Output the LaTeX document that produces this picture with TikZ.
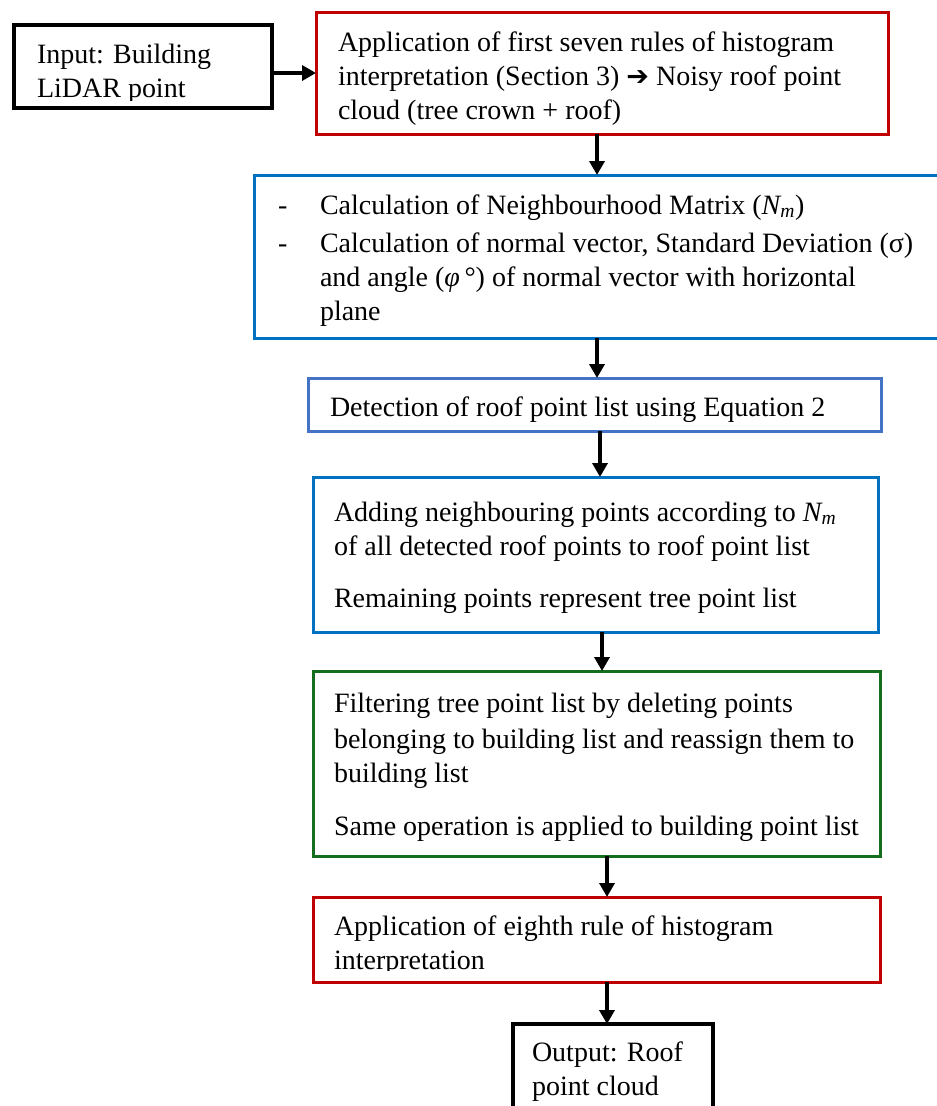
\documentclass[tikz,border=0pt]{standalone}
\usepackage{fontspec}
\setmainfont{Liberation Serif}
\newfontfamily\dejavu{DejaVu Sans}
\usetikzlibrary{arrows.meta}
\definecolor{cred}{RGB}{192,0,0}
\definecolor{cblue}{RGB}{0,112,192}
\definecolor{cblueb}{RGB}{68,114,196}
\definecolor{cgreen}{RGB}{20,110,30}
\begin{document}
\begin{tikzpicture}[x=1pt,y=-1pt,
  boxn/.style={draw, line width=3pt, inner sep=0pt, outer sep=0pt, anchor=north west},
  txt/.style={anchor=north west, inner sep=0pt, outer sep=0pt, align=left, font=\fontsize{28}{34}\selectfont},
  arr/.style={line width=3.5pt, -{Triangle[length=14pt,width=15pt]}}]
\useasboundingbox (0,0) rectangle (937,1106);
% boxes
\node[boxn, draw=black, line width=4pt, minimum width=258pt, minimum height=83pt] (in) at (14,25) {};
\node[boxn, draw=cred, minimum width=572pt, minimum height=122pt] (b1) at (316,12) {};
\node[boxn, draw=cblue, minimum width=700pt, minimum height=163pt] (b2) at (254,175) {};
\node[boxn, draw=cblueb, minimum width=573pt, minimum height=53pt] (b3) at (308,378) {};
\node[boxn, draw=cblue, minimum width=565pt, minimum height=155pt] (b4) at (313,477) {};
\node[boxn, draw=cgreen, minimum width=567pt, minimum height=185pt] (b5) at (313,671) {};
\node[boxn, draw=cred, minimum width=567pt, minimum height=85pt] (b6) at (313,897) {};
\node[boxn, draw=black, line width=4pt, minimum width=200pt, minimum height=95pt] (b7) at (513,1024) {};
% texts
\begin{scope}
\clip ([shift={(2pt,-2pt)}]in.north west) rectangle ([xshift=-2pt]in.east |- 0,100);
\node[txt] (tin) at (37,39.2) {\strut Input: Building\\LiDAR point};
\end{scope}
\node[txt] (t1) at (338,27.2) {\strut Application of first seven rules of histogram\\interpretation (Section 3) {\dejavu\fontsize{27}{34}\selectfont ➔} Noisy roof point\\cloud (tree crown + roof)};
\node[txt] (t2d) at (278,190.2) {\strut -\\[4pt]-};
\node[txt] (t2) at (320,190.2) {\strut Calculation of Neighbourhood Matrix ({\itshape N}\textsubscript{\itshape m})\\[4pt]Calculation of normal vector, Standard Deviation (σ)\\and angle ({\itshape φ\,}°) of normal vector with horizontal\\plane};
\node[txt] (t3) at (330,392.2) {\strut Detection of roof point list using Equation 2};
\node[txt] (t4) at (334,497.2) {\strut Adding neighbouring points according to {\itshape N}\textsubscript{\itshape m}\\of all detected roof points to roof point list\\[18pt]Remaining points represent tree point list};
\node[txt] (t5) at (334,688.2) {\strut Filtering tree point list by deleting points\\[2pt]belonging to building list and reassign them to\\building list\\[19pt]Same operation is applied to building point list};
\begin{scope}
\clip ([shift={(2pt,-2pt)}]b6.north west) rectangle ([xshift=-2pt]b6.east |- 0,970);
\node[txt] (t6) at (334,911.2) {\strut Application of eighth rule of histogram\\interpretation};
\end{scope}
\begin{scope}
\clip ([shift={(2pt,-2pt)}]b7.north west) rectangle ([shift={(-2pt,2pt)}]b7.south east);
\node[txt] (t7) at (532,1037.2) {\strut Output: Roof\\point cloud};
\end{scope}
% arrows
\coordinate (x1) at (597,0);
\coordinate (x3) at (600,0);
\coordinate (x4) at (602,0);
\coordinate (x5) at (607,0);
\draw[arr] (in.east |- b1.west) -- (b1.west);
\draw[arr] (b1.south -| x1) -- (b2.north -| x1);
\draw[arr] (b2.south -| x1) -- (b3.north -| x1);
\draw[arr] (b3.south -| x3) -- (b4.north -| x3);
\draw[arr] (b4.south -| x4) -- (b5.north -| x4);
\draw[arr] (b5.south -| x5) -- (b6.north -| x5);
\draw[arr] (b6.south -| x5) -- (b7.north -| x5);
\end{tikzpicture}
\end{document}
